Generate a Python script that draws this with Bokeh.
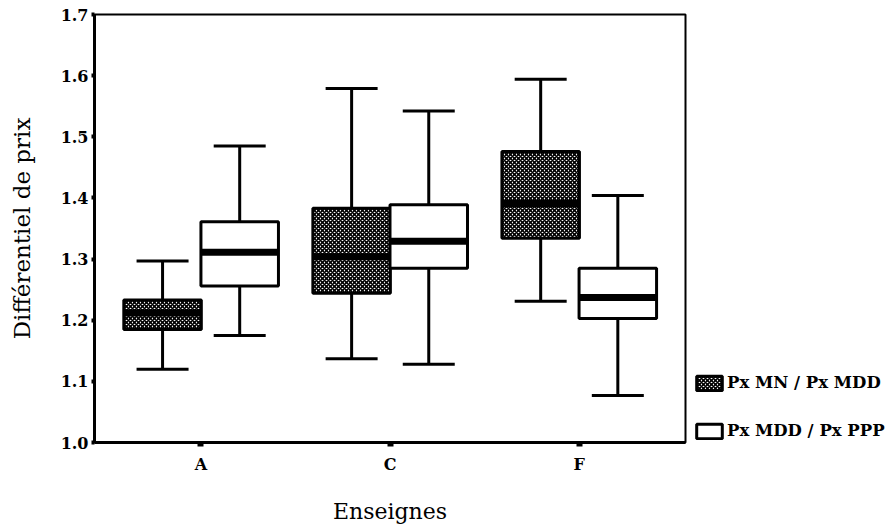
from bokeh.plotting import figure
from bokeh.models import (ColumnDataSource, FactorRange, Range1d, FixedTicker,
                          PrintfTickFormatter, Legend, LegendItem)
from bokeh.transform import dodge
from bokeh.embed import file_html
from bokeh.resources import INLINE

# ---- data ----
categories = ["A", "C", "F"]
series_names = ["Px MN / Px MDD", "Px MDD / Px PPP"]

mn_low = [1.120, 1.137, 1.231]
mn_q1 = [1.185, 1.244, 1.334]
mn_med = [1.212, 1.304, 1.391]
mn_q3 = [1.233, 1.383, 1.476]
mn_high = [1.297, 1.579, 1.594]

mdd_low = [1.175, 1.128, 1.077]
mdd_q1 = [1.256, 1.285, 1.203]
mdd_med = [1.311, 1.329, 1.237]
mdd_q3 = [1.361, 1.389, 1.285]
mdd_high = [1.485, 1.542, 1.404]

y_ticks = [1.0, 1.1, 1.2, 1.3, 1.4, 1.5, 1.6, 1.7]

# ---- figure ----
p = figure(x_range=FactorRange(*categories, range_padding=0.042),
           y_range=Range1d(1.0, 1.7),
           frame_width=591, frame_height=428,
           output_backend="svg", toolbar_location=None,
           min_border_left=94, min_border_right=207, min_border_top=14,
           min_border_bottom=89, background_fill_color="white",
           border_fill_color="white")

p.grid.visible = False
p.outline_line_color = "black"
p.outline_line_width = 2

BOX_W = 0.41
CAP_HW = 0.1375

series = [
    dict(name=series_names[0], low=mn_low, q1=mn_q1, med=mn_med, q3=mn_q3,
         high=mn_high, off=-0.203, hatch="diagonal_cross"),
    dict(name=series_names[1], low=mdd_low, q1=mdd_q1, med=mdd_med, q3=mdd_q3,
         high=mdd_high, off=0.205, hatch=None),
]

legend_items = []
for s in series:
    src = ColumnDataSource(dict(cat=categories, low=s["low"], q1=s["q1"],
                                med=s["med"], q3=s["q3"], high=s["high"]))
    off = s["off"]
    xc = dodge("cat", off, range=p.x_range)
    xl = dodge("cat", off - CAP_HW, range=p.x_range)
    xr = dodge("cat", off + CAP_HW, range=p.x_range)
    bl = dodge("cat", off - BOX_W / 2, range=p.x_range)
    br = dodge("cat", off + BOX_W / 2, range=p.x_range)
    # whiskers
    p.segment(x0=xc, y0="low", x1=xc, y1="q1", source=src,
              line_color="black", line_width=3)
    p.segment(x0=xc, y0="q3", x1=xc, y1="high", source=src,
              line_color="black", line_width=3)
    # caps
    p.segment(x0=xl, y0="low", x1=xr, y1="low", source=src,
              line_color="black", line_width=3)
    p.segment(x0=xl, y0="high", x1=xr, y1="high", source=src,
              line_color="black", line_width=3)
    # box
    kw = dict(fill_color="white", line_color="black", line_width=3)
    if s["hatch"]:
        kw.update(hatch_pattern=s["hatch"], hatch_color="black",
                  hatch_scale=4, hatch_weight=1.6)
    box = p.vbar(x=xc, width=BOX_W, bottom="q1", top="q3", source=src, **kw)
    # median
    p.segment(x0=bl, y0="med", x1=br, y1="med", source=src,
              line_color="black", line_width=7, line_cap="butt")
    legend_items.append(LegendItem(label=s["name"], renderers=[box]))

legend = Legend(items=legend_items, location=(8, 2), orientation="vertical",
                glyph_width=32, glyph_height=18, label_height=18,
                label_standoff=2, spacing=29, padding=0, margin=0,
                border_line_color=None, background_fill_alpha=0,
                label_text_font="DejaVu Serif", label_text_font_style="bold",
                label_text_font_size="16.5px", label_text_color="black")
p.add_layout(legend, "right")

# ---- axes ----
p.yaxis.ticker = FixedTicker(ticks=y_ticks)
p.yaxis.formatter = PrintfTickFormatter(format="%.1f")
for ax in (p.xaxis[0], p.yaxis[0]):
    ax.axis_line_width = 3
    ax.axis_line_color = "black"
    ax.major_tick_in = 0
    ax.minor_tick_line_color = None
    ax.major_label_text_font = "DejaVu Serif"
    ax.major_label_text_font_style = "bold"
    ax.major_label_text_font_size = "16px"
    ax.major_label_text_color = "black"
    ax.axis_label_text_font = "DejaVu Serif"
    ax.axis_label_text_font_style = "normal"
    ax.axis_label_text_color = "black"

p.yaxis.major_tick_out = 3
p.yaxis.major_tick_line_width = 4
p.yaxis.major_label_standoff = 3
p.yaxis.axis_label = "Différentiel de prix"
p.yaxis.axis_label_text_font_size = "23px"
p.yaxis.axis_label_standoff = 23

p.xaxis.major_tick_out = 4
p.xaxis.major_tick_line_width = 6
p.xaxis.major_label_standoff = 8
p.xaxis.axis_label = "Enseignes"
p.xaxis.axis_label_text_font_size = "22px"
p.xaxis.axis_label_standoff = 22

open("out.html", "w").write(file_html(p, INLINE))
